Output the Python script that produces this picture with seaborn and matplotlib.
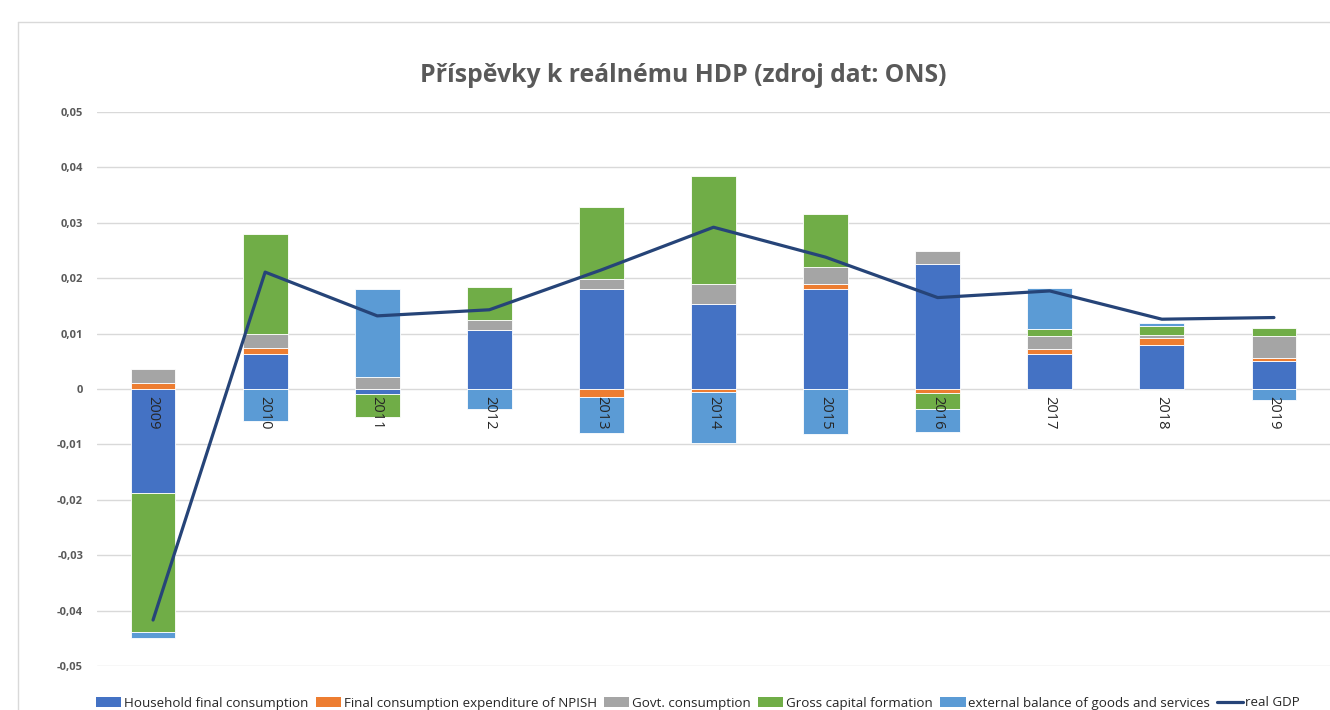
import numpy as np
import pandas as pd
import matplotlib
matplotlib.use("Agg")
import matplotlib.pyplot as plt
from matplotlib.ticker import FuncFormatter
from matplotlib.lines import Line2D
from matplotlib.patches import Patch
import seaborn as sns

# data
years = ['2009', '2010', '2011', '2012', '2013', '2014', '2015', '2016', '2017', '2018', '2019']
household = [-0.0188, 0.0064, -0.0009, 0.0106, 0.0181, 0.0154, 0.0181, 0.0225, 0.0064, 0.0079, 0.0051]
npish = [0.0011, 0.0010, 0.0000, 0.0001, -0.0015, -0.0005, 0.0009, -0.0008, 0.0009, 0.0013, 0.0005]
govt = [0.0026, 0.0025, 0.0021, 0.0018, 0.0018, 0.0035, 0.0031, 0.0025, 0.0022, 0.0006, 0.0039]
gcf = [-0.0251, 0.0181, -0.0041, 0.0060, 0.0129, 0.0196, 0.0094, -0.0029, 0.0013, 0.0016, 0.0016]
external = [-0.0011, -0.0058, 0.0159, -0.0037, -0.0065, -0.0092, -0.0081, -0.0041, 0.0075, 0.0005, -0.0019]
real_gdp = [-0.0417, 0.0211, 0.0132, 0.0143, 0.0215, 0.0292, 0.0238, 0.0165, 0.0177, 0.0126, 0.0129]

series_names = ['Household final consumption', 'Final consumption expenditure of NPISH',
                'Govt. consumption', 'Gross capital formation',
                'external balance of goods and services']
series_vals = [household, npish, govt, gcf, external]
colors = ['#4472C4', '#ED7D31', '#A5A5A5', '#70AD47', '#5B9BD5']
line_color = '#264478'

sns.set_style('white')
plt.rcParams['font.family'] = ['Open Sans', 'DejaVu Sans']

fig = plt.figure(figsize=(13.3, 7.1), dpi=100)
ax = fig.add_axes([97 / 1330, 44 / 710, 1 - 97 / 1330, (666 - 112) / 710])

# stack positives and negatives separately like Excel
pos_base = np.zeros(len(years))
neg_base = np.zeros(len(years))
for name, vals, col in zip(series_names, series_vals, colors):
    v = np.array(vals)
    bottom = np.where(v >= 0, pos_base, neg_base)
    df = pd.DataFrame({'year': years, 'value': v})
    sns.barplot(data=df, x='year', y='value', color=col, saturation=1, width=0.4,
                bottom=bottom, edgecolor='white', linewidth=0.6, ax=ax, zorder=2)
    pos_base = pos_base + np.where(v >= 0, v, 0)
    neg_base = neg_base + np.where(v < 0, v, 0)

gdp_df = pd.DataFrame({'x': np.arange(len(years)), 'gdp': real_gdp})
sns.lineplot(data=gdp_df, x='x', y='gdp', color=line_color, linewidth=2.3, ax=ax, zorder=3)

ax.set_xlim(-0.5, len(years) - 0.5)
ax.set_ylim(-0.05, 0.05)
ax.set_yticks(np.arange(-0.05, 0.051, 0.01))
ax.yaxis.set_major_formatter(FuncFormatter(
    lambda v, p: '0' if abs(v) < 1e-9 else f'{v:.2f}'.replace('.', ',')))
ax.tick_params(axis='y', length=0, pad=10, labelsize=8, labelcolor='#595959')
for lab in ax.get_yticklabels():
    lab.set_fontweight('bold')
ax.grid(axis='y', color='#D9D9D9', linewidth=1)
ax.set_axisbelow(True)
for s in ax.spines.values():
    s.set_visible(False)
ax.set_xlabel('')
ax.set_ylabel('')
ax.set_xticks(np.arange(len(years)))
ax.set_xticklabels([])
ax.tick_params(axis='x', length=0)

# year labels sit next to the zero line, rotated
for i, yr in enumerate(years):
    ax.text(i, -0.0012, yr, rotation=270, ha='center', va='top',
            fontsize=10.5, color='#262626', zorder=4)

fig.text(683 / 1330, 1 - 75 / 710, 'Příspěvky k reálnému HDP (zdroj dat: ONS)',
         ha='center', va='center', fontsize=17.8, fontweight='bold', color='#595959')

# outer chart frame (left and top edges visible)
fig.add_artist(Line2D([18 / 1330, 18 / 1330], [0, 1 - 22 / 710], color='#D9D9D9', lw=1))
fig.add_artist(Line2D([18 / 1330, 1], [1 - 22 / 710, 1 - 22 / 710], color='#D9D9D9', lw=1))

handles = [Patch(facecolor=c, edgecolor='none', label=n) for n, c in zip(series_names, colors)]
handles.append(Line2D([0], [0], color=line_color, lw=2.3, label='real GDP'))
fig.legend(handles=handles, loc='center', bbox_to_anchor=(698 / 1330, 1 - 703 / 710),
           ncol=6, frameon=False, fontsize=9.6, handlelength=1.9, handleheight=0.8,
           handletextpad=0.2, columnspacing=0.55, labelcolor='#262626')

fig.savefig('out.png', dpi=100)
